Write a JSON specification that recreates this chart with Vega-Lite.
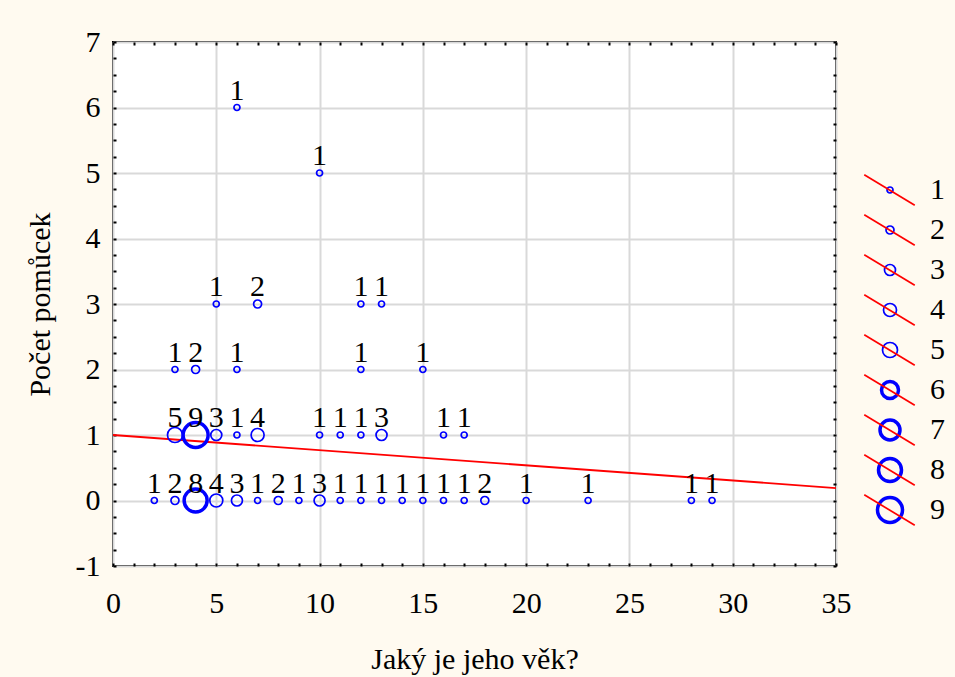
{
  "$schema": "https://vega.github.io/schema/vega-lite/v6.json",
  "width": 723,
  "height": 524,
  "autosize": {"type": "none"},
  "padding": {"left": 113, "top": 42, "right": 119, "bottom": 111},
  "background": "#FFFAF0",
  "config": {
    "view": {"fill": "white", "stroke": "black", "strokeWidth": 2},
    "font": "Liberation Serif",
    "axis": {
      "labelFont": "Liberation Serif", "labelFontSize": 30, "labelColor": "black",
      "titleFont": "Liberation Serif", "titleFontSize": 30, "titleFontWeight": "normal", "titleColor": "black",
      "domain": false, "tickColor": "black", "tickWidth": 2, "tickSize": -3,
      "gridColor": "#D9D9D9", "gridWidth": 2, "labelOverlap": false, "labelBound": false, "labelFlush": false
    },
    "legend": {"labelFont": "Liberation Serif", "labelFontSize": 30, "labelColor": "black", "padding": 0, "offset": 0, "symbolOpacity": 1}
  },
  "datasets": {
    "pts": [
      {"vek": 2, "pomucky": 0, "pocet": 1}, {"vek": 3, "pomucky": 0, "pocet": 2}, {"vek": 4, "pomucky": 0, "pocet": 8},
      {"vek": 5, "pomucky": 0, "pocet": 4}, {"vek": 6, "pomucky": 0, "pocet": 3}, {"vek": 7, "pomucky": 0, "pocet": 1},
      {"vek": 8, "pomucky": 0, "pocet": 2}, {"vek": 9, "pomucky": 0, "pocet": 1}, {"vek": 10, "pomucky": 0, "pocet": 3},
      {"vek": 11, "pomucky": 0, "pocet": 1}, {"vek": 12, "pomucky": 0, "pocet": 1}, {"vek": 13, "pomucky": 0, "pocet": 1},
      {"vek": 14, "pomucky": 0, "pocet": 1}, {"vek": 15, "pomucky": 0, "pocet": 1}, {"vek": 16, "pomucky": 0, "pocet": 1},
      {"vek": 17, "pomucky": 0, "pocet": 1}, {"vek": 18, "pomucky": 0, "pocet": 2}, {"vek": 20, "pomucky": 0, "pocet": 1},
      {"vek": 23, "pomucky": 0, "pocet": 1}, {"vek": 28, "pomucky": 0, "pocet": 1}, {"vek": 29, "pomucky": 0, "pocet": 1},
      {"vek": 3, "pomucky": 1, "pocet": 5}, {"vek": 4, "pomucky": 1, "pocet": 9}, {"vek": 5, "pomucky": 1, "pocet": 3},
      {"vek": 6, "pomucky": 1, "pocet": 1}, {"vek": 7, "pomucky": 1, "pocet": 4}, {"vek": 10, "pomucky": 1, "pocet": 1},
      {"vek": 11, "pomucky": 1, "pocet": 1}, {"vek": 12, "pomucky": 1, "pocet": 1}, {"vek": 13, "pomucky": 1, "pocet": 3},
      {"vek": 16, "pomucky": 1, "pocet": 1}, {"vek": 17, "pomucky": 1, "pocet": 1},
      {"vek": 3, "pomucky": 2, "pocet": 1}, {"vek": 4, "pomucky": 2, "pocet": 2}, {"vek": 6, "pomucky": 2, "pocet": 1},
      {"vek": 12, "pomucky": 2, "pocet": 1}, {"vek": 15, "pomucky": 2, "pocet": 1},
      {"vek": 5, "pomucky": 3, "pocet": 1}, {"vek": 7, "pomucky": 3, "pocet": 2}, {"vek": 12, "pomucky": 3, "pocet": 1},
      {"vek": 13, "pomucky": 3, "pocet": 1},
      {"vek": 10, "pomucky": 5, "pocet": 1}, {"vek": 6, "pomucky": 6, "pocet": 1}
    ],
    "fit": [{"vek": 0, "pomucky": 1.0}, {"vek": 35, "pomucky": 0.19}]
  },
  "resolve": {"axis": {"x": "independent", "y": "independent"}},
  "layer": [
    {
      "data": {"name": "fit"},
      "mark": {"type": "line", "color": "#FF0000", "strokeWidth": 1.8, "clip": true},
      "encoding": {
        "x": {
          "field": "vek", "type": "quantitative",
          "scale": {"domain": [0, 35], "nice": false, "zero": false},
          "axis": {
            "orient": "bottom", "title": "Jaký je jeho věk?", "titlePadding": 26,
            "values": [0,1,2,3,4,5,6,7,8,9,10,11,12,13,14,15,16,17,18,19,20,21,22,23,24,25,26,27,28,29,30,31,32,33,34,35],
            "labelExpr": "datum.value % 5 === 0 ? '' + datum.value : ''",
            "labelPadding": 25, "grid": true,
            "gridOpacity": {"condition": {"test": "datum.value % 5 === 0", "value": 1}, "value": 0}
          }
        },
        "y": {
          "field": "pomucky", "type": "quantitative",
          "scale": {"domain": [-1, 7], "nice": false, "zero": false},
          "axis": {
            "orient": "left", "title": "Počet pomůcek", "titlePadding": 20,
            "values": [-1,-0.75,-0.5,-0.25,0,0.25,0.5,0.75,1,1.25,1.5,1.75,2,2.25,2.5,2.75,3,3.25,3.5,3.75,4,4.25,4.5,4.75,5,5.25,5.5,5.75,6,6.25,6.5,6.75,7],
            "labelExpr": "datum.value % 1 === 0 ? '' + datum.value : ''",
            "labelPadding": 16, "grid": true,
            "gridOpacity": {"condition": {"test": "datum.value % 1 === 0", "value": 1}, "value": 0}
          }
        }
      }
    },
    {
      "data": {"name": "pts"},
      "mark": {"type": "point", "shape": "circle", "filled": false, "color": "#0000FF"},
      "encoding": {
        "x": {
          "field": "vek", "type": "quantitative",
          "axis": {
            "orient": "top", "title": null, "labels": false, "grid": false,
            "values": [0,1,2,3,4,5,6,7,8,9,10,11,12,13,14,15,16,17,18,19,20,21,22,23,24,25,26,27,28,29,30,31,32,33,34,35]
          }
        },
        "y": {
          "field": "pomucky", "type": "quantitative",
          "axis": {
            "orient": "right", "title": null, "labels": false, "grid": false,
            "values": [-1,-0.75,-0.5,-0.25,0,0.25,0.5,0.75,1,1.25,1.5,1.75,2,2.25,2.5,2.75,3,3.25,3.5,3.75,4,4.25,4.5,4.75,5,5.25,5.5,5.75,6,6.25,6.5,6.75,7]
          }
        },
        "opacity": {
          "field": "pocet", "type": "quantitative",
          "scale": {"domain": [1, 9], "range": [1, 1]},
          "legend": {
            "type": "symbol", "values": [1,2,3,4,5,6,7,8,9], "orient": "none", "legendX": 750, "legendY": 128,
            "title": null, "symbolType": "M-1,-0.6L1,0.6", "symbolSize": 2550,
            "symbolStrokeColor": "#FF0000", "symbolStrokeWidth": 1.7, "symbolFillColor": "transparent",
            "clipHeight": 40, "rowPadding": 0, "labelOpacity": 0, "labelExpr": "''"
          }
        },
        "size": {
          "field": "pocet", "type": "quantitative",
          "scale": {"domain": [1,2,3,4,5,6,7,8,9], "range": [36,64,121,169,225,289,400,529,625]},
          "legend": {
            "values": [1,2,3,4,5,6,7,8,9], "orient": "none", "legendX": 762, "legendY": 128,
            "title": null, "symbolType": "circle", "symbolStrokeColor": "#0000FF", "symbolFillColor": "transparent",
            "clipHeight": 40, "rowPadding": 0, "labelOffset": 25
          }
        },
        "strokeWidth": {
          "field": "pocet", "type": "quantitative",
          "scale": {"domain": [1,2,3,4,5,6,7,8,9], "range": [1.7,1.7,1.7,1.7,1.7,3.5,3.5,3.5,3.5]},
          "legend": {
            "values": [1,2,3,4,5,6,7,8,9], "orient": "none", "legendX": 762, "legendY": 128,
            "title": null, "symbolType": "circle", "symbolStrokeColor": "#0000FF", "symbolFillColor": "transparent",
            "clipHeight": 40, "rowPadding": 0, "labelOffset": 25
          }
        }
      }
    },
    {
      "data": {"name": "pts"},
      "mark": {"type": "text", "baseline": "alphabetic", "dy": -8, "fontSize": 30, "font": "Liberation Serif", "color": "black"},
      "encoding": {
        "x": {"field": "vek", "type": "quantitative", "axis": null},
        "y": {"field": "pomucky", "type": "quantitative", "axis": null},
        "text": {"field": "pocet", "type": "quantitative"}
      }
    }
  ]
}
